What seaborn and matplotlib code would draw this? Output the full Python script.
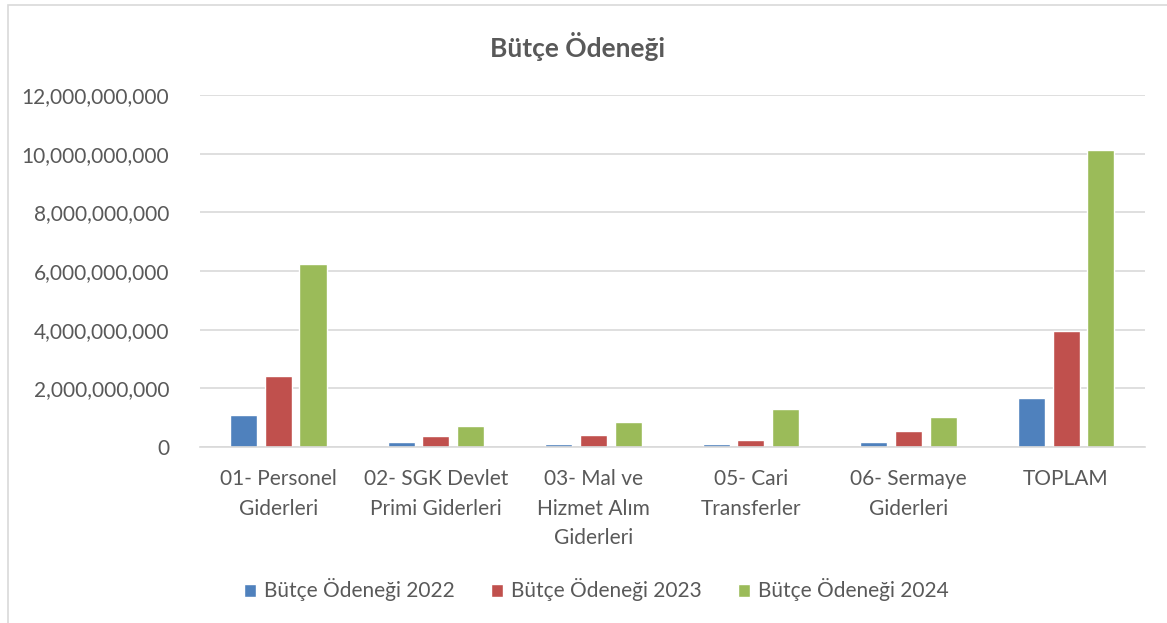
import pandas as pd
import matplotlib.pyplot as plt
import matplotlib.ticker as mticker
from matplotlib.patches import Rectangle
import seaborn as sns

# ─── DATA ────────────────────────────────────────────
categories = [
    '01- Personel\nGiderleri',
    '02- SGK Devlet\nPrimi Giderleri',
    '03- Mal ve\nHizmet Alım\nGiderleri',
    '05- Cari\nTransferler',
    '06- Sermaye\nGiderleri',
    'TOPLAM',
]
series_names = ['Bütçe Ödeneği 2022', 'Bütçe Ödeneği 2023', 'Bütçe Ödeneği 2024']
odenek_2022 = [1.08e9, 0.16e9, 0.10e9, 0.10e9, 0.17e9, 1.67e9]
odenek_2023 = [2.41e9, 0.36e9, 0.40e9, 0.23e9, 0.53e9, 3.96e9]
odenek_2024 = [6.24e9, 0.72e9, 0.86e9, 1.28e9, 1.01e9, 10.14e9]
y_ticks = [0, 2e9, 4e9, 6e9, 8e9, 10e9, 12e9]

COLORS = ['#4F81BD', '#C0504D', '#9BBB59']
TEXT = '#595959'

rows = []
for name, vals in zip(series_names, [odenek_2022, odenek_2023, odenek_2024]):
    for cat, v in zip(categories, vals):
        rows.append({'kalem': cat, 'seri': name, 'deger': v})
df = pd.DataFrame(rows)

# ─── STYLE ────────────────────────────────────────────
sns.set_style('white')
plt.rcParams['font.family'] = ['Lato', 'DejaVu Sans']

fig = plt.figure(figsize=(11.67, 6.23), dpi=100)
ax = fig.add_axes([0.171, 0.2825, 0.81, 0.565])

sns.barplot(data=df, x='kalem', y='deger', hue='seri', palette=COLORS,
            width=0.66, gap=0.22, saturation=1, ax=ax, legend=True)

ax.set_ylim(0, 12e9)
ax.set_yticks(y_ticks)
ax.yaxis.set_major_formatter(mticker.FuncFormatter(lambda x, _: f'{x:,.0f}'))
ax.grid(axis='y', color='#d9d9d9', linewidth=1.2)
ax.set_axisbelow(True)
for s in ['top', 'right', 'left']:
    ax.spines[s].set_visible(False)
ax.spines['bottom'].set_color('#d9d9d9')
ax.spines['bottom'].set_linewidth(1.2)
ax.tick_params(axis='both', length=0, labelsize=15, labelcolor=TEXT)
ax.tick_params(axis='y', pad=22)
ax.tick_params(axis='x', pad=16)
for t in ax.get_xticklabels():
    t.set_linespacing(1.6)
ax.set_xlabel('')
ax.set_ylabel('')
ax.set_xlim(-0.5, len(categories) - 0.5)

fig.text(0.495, 0.925, 'Bütçe Ödeneği', ha='center', va='center',
         fontsize=19, fontweight='bold', color=TEXT)

handles, labels = ax.get_legend_handles_labels()
ax.get_legend().remove()
fig.legend(handles, labels, loc='center', bbox_to_anchor=(0.511, 0.053), ncol=3,
           frameon=False, fontsize=15, labelcolor=TEXT, handlelength=0.6,
           handleheight=0.6, handletextpad=0.4, columnspacing=1.7)

# outer chart frame
fig.patches.append(Rectangle((0.007, -0.1), 1.2, 1.092, transform=fig.transFigure,
                             fill=False, edgecolor='#d9d9d9', linewidth=1.2))

fig.savefig('out.png', dpi=100)
